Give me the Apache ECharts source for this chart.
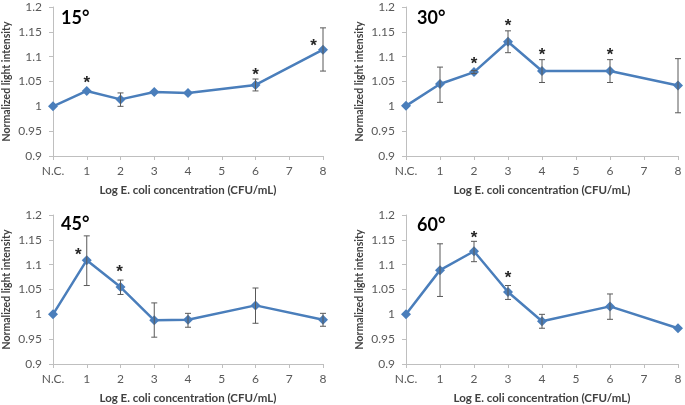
<!DOCTYPE html>
<html><head><meta charset="utf-8">
<script src="https://cdn.jsdelivr.net/npm/echarts@6/dist/echarts.min.js"></script>
<style>html,body{margin:0;padding:0;background:#fff}#c{width:685px;height:405px}</style>
</head><body><div id="c"></div>
<script>
// ---- data ----
const xTickLabels = ['N.C.', '1', '2', '3', '4', '5', '6', '7', '8'];
const xPositions = [0, 1, 2, 3, 4, 6, 8];
const panelTitles = ['15°', '30°', '45°', '60°'];

const values15 = [1.000, 1.031, 1.014, 1.029, 1.027, 1.043, 1.114];
const errLo15  = [null, null, 1.000, null, null, 1.031, 1.071];
const errHi15  = [null, null, 1.027, null, null, 1.055, 1.158];
const starX15  = [1, 6, 7.72];
const starY15  = [1.054, 1.071, 1.128];

const values30 = [1.001, 1.045, 1.069, 1.130, 1.071, 1.071, 1.042];
const errLo30  = [null, 1.008, 1.066, 1.108, 1.048, 1.048, 0.987];
const errHi30  = [null, 1.079, 1.072, 1.152, 1.094, 1.094, 1.096];
const starX30  = [2, 3, 4, 6];
const starY30  = [1.093, 1.169, 1.111, 1.111];

const values45 = [1.000, 1.109, 1.055, 0.988, 0.989, 1.018, 0.989];
const errLo45  = [null, 1.058, 1.040, 0.954, 0.974, 0.982, 0.976];
const errHi45  = [null, 1.158, 1.069, 1.023, 1.002, 1.053, 1.002];
const starX45  = [0.75, 1.97];
const starY45  = [1.126, 1.092];

const values60 = [1.000, 1.089, 1.127, 1.045, 0.986, 1.016, 0.972];
const errLo60  = [null, 1.036, 1.106, 1.030, 0.972, 0.990, null];
const errHi60  = [null, 1.142, 1.147, 1.058, 1.000, 1.041, null];
const starX60  = [2, 3];
const starY60  = [1.162, 1.081];

const yMin = 0.9, yMax = 1.2, yStep = 0.05;
const xTitle = 'Log E. coli concentration (CFU/mL)';
const yTitle = 'Normalized light intensity';

// ---- build ----
const panels = [
  {v: values15, lo: errLo15, hi: errHi15, sx: starX15, sy: starY15},
  {v: values30, lo: errLo30, hi: errHi30, sx: starX30, sy: starY30},
  {v: values45, lo: errLo45, hi: errHi45, sx: starX45, sy: starY45},
  {v: values60, lo: errLo60, hi: errHi60, sx: starX60, sy: starY60}
];
const grids = [
  {left: 49, top: 7, width: 274, height: 149},
  {left: 406, top: 7, width: 272, height: 149},
  {left: 49, top: 215, width: 274, height: 149},
  {left: 406, top: 215, width: 272, height: 149}
];
const titlePos = [{left: 56, top: 4}, {left: 412, top: 4}, {left: 56, top: 210}, {left: 412, top: 211}];

const FONT = 'Lato, "Open Sans", sans-serif';
const lineColor = '#4a7ebb';
const axisGray = '#bfbfbf';
const labelColor = '#595959';

const xAxes = [], yAxes = [], series = [], titles = [];
panels.forEach((p, i) => {
  titles.push({text: panelTitles[i], left: titlePos[i].left, top: titlePos[i].top,
    textStyle: {fontFamily: FONT, fontSize: 18, fontWeight: 'bold', color: '#000'}});
  xAxes.push({gridIndex: i, type: 'value', min: 0, max: 8, interval: 1,
    name: xTitle, nameLocation: 'middle', nameGap: 28,
    nameTextStyle: {fontFamily: FONT, fontSize: 11.5, fontWeight: 'bold', color: '#404040'},
    axisLine: {lineStyle: {color: axisGray}},
    axisTick: {show: true, length: 4, lineStyle: {color: axisGray}},
    splitLine: {show: false},
    axisLabel: {fontFamily: FONT, fontSize: 12, color: labelColor, margin: 9,
      formatter: v => xTickLabels[Math.round(v)]}});
  yAxes.push({gridIndex: i, type: 'value', min: yMin, max: yMax, interval: yStep,
    name: yTitle, nameLocation: 'middle', nameGap: 41,
    nameTextStyle: {fontFamily: FONT, fontSize: 10.5, fontWeight: 'bold', color: '#404040'},
    axisLine: {show: true, lineStyle: {color: axisGray}},
    axisTick: {show: true, length: 4, lineStyle: {color: axisGray}},
    splitLine: {show: false},
    axisLabel: {fontFamily: FONT, fontSize: 12, color: labelColor, margin: 11,
      formatter: v => String(Math.round(v * 100) / 100)}});
  series.push({type: 'line', xAxisIndex: i, yAxisIndex: i,
    data: xPositions.map((x, k) => [x, p.v[k]]),
    symbol: 'diamond', symbolSize: 10, z: 3,
    lineStyle: {color: lineColor, width: 2.5},
    itemStyle: {color: lineColor}});
  const errData = [];
  xPositions.forEach((x, k) => { if (p.lo[k] != null) errData.push([x, p.lo[k], p.hi[k]]); });
  series.push({type: 'custom', xAxisIndex: i, yAxisIndex: i, data: errData, z: 4,
    renderItem: (params, api) => {
      const a = api.coord([api.value(0), api.value(2)]);
      const b = api.coord([api.value(0), api.value(1)]);
      const st = {stroke: '#595959', lineWidth: 1};
      return {type: 'group', children: [
        {type: 'line', shape: {x1: a[0], y1: a[1], x2: b[0], y2: b[1]}, style: st},
        {type: 'line', shape: {x1: a[0] - 3, y1: a[1], x2: a[0] + 3, y2: a[1]}, style: st},
        {type: 'line', shape: {x1: b[0] - 3, y1: b[1], x2: b[0] + 3, y2: b[1]}, style: st}
      ]};
    }});
  series.push({type: 'custom', xAxisIndex: i, yAxisIndex: i, z: 5,
    data: p.sx.map((x, k) => [x, p.sy[k]]),
    renderItem: (params, api) => {
      const c = api.coord([api.value(0), api.value(1)]);
      return {type: 'text', x: c[0], y: c[1] + 4,
        style: {text: '*', fontFamily: '"Liberation Sans", Arial, sans-serif', fontSize: 17, fontWeight: 'bold',
          fill: '#262626', align: 'center', verticalAlign: 'middle'}};
    }});
});

const chart = echarts.init(document.getElementById('c'), null, {renderer: 'canvas'});
chart.setOption({
  animation: false,
  backgroundColor: '#fff',
  title: titles,
  grid: grids,
  xAxis: xAxes,
  yAxis: yAxes,
  series: series
});
</script></body></html>
